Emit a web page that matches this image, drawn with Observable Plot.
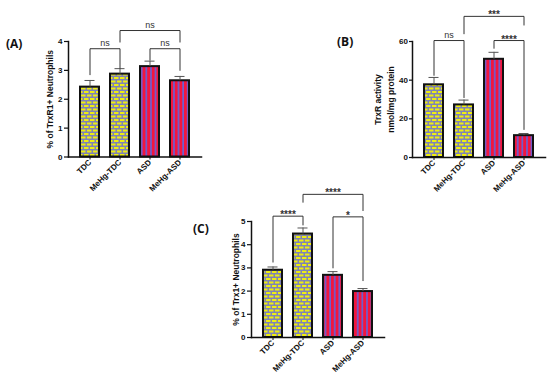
<!DOCTYPE html>
<html>
<head>
<meta charset="utf-8">
<script src="https://cdn.jsdelivr.net/npm/d3@7"></script>
<script src="https://cdn.jsdelivr.net/npm/@observablehq/plot@0.6"></script>
<style>
  html, body { margin: 0; padding: 0; background: #fff; }
  #fig { position: relative; width: 550px; height: 385px; overflow: hidden; background: #fff; }
  .panel { position: absolute; }
  .panel svg { overflow: visible; }
  .tag { position: absolute; font-family: "Open Sans", "Liberation Sans", sans-serif; font-weight: bold; font-size: 12px; color: #111; line-height: 1; }
</style>
</head>
<body>
<svg width="0" height="0" style="position:absolute">
  <defs>
    <pattern id="brick" patternUnits="userSpaceOnUse" width="6" height="7">
      <rect width="6" height="7" fill="#7f82b6"/>
      <rect x="0" y="0" width="4.5" height="2" fill="#eeee10"/>
      <rect x="3" y="3.5" width="4.5" height="2" fill="#eeee10"/>
      <rect x="-3" y="3.5" width="4.5" height="2" fill="#eeee10"/>
    </pattern>
    <pattern id="stripe" patternUnits="userSpaceOnUse" width="4.6" height="10">
      <rect width="4.6" height="10" fill="#f2163e"/>
      <rect x="2.9" y="0" width="1.7" height="10" fill="#6b5fd2"/>
    </pattern>
  </defs>
</svg>
<div id="fig">
  <div class="tag" style="left:6px; top:38px;">(A)</div>
  <div class="tag" style="left:337px; top:36px;">(B)</div>
  <div class="tag" style="left:193px; top:223px;">(C)</div>
  <div class="panel" id="pA" style="left:0px; top:0px;"></div>
  <div class="panel" id="pB" style="left:330px; top:0px;"></div>
  <div class="panel" id="pC" style="left:170px; top:180px;"></div>
</div>
<script>
// ---- data ----
const groups = ["TDC", "MeHg-TDC", "ASD", "MeHg-ASD"];
const fills = ["brick", "brick", "stripe", "stripe"];

const valuesA = [2.42, 2.87, 3.13, 2.64];
const errorsA = [0.23, 0.19, 0.19, 0.15];
const ticksA = [0, 1, 2, 3, 4];
const titleA = "% of TrxR1+ Neutrophils";
// [from, to, bracket level, left leg end, right leg end, label]
const bracketsA = [
  ["TDC", "MeHg-TDC", 3.75, 2.85, 3.08, "ns"],
  ["ASD", "MeHg-ASD", 3.75, 3.36, 3.0, "ns"],
  ["MeHg-TDC", "MeHg-ASD", 4.38, 3.98, 3.98, "ns"]
];

const valuesB = [37.6, 27.2, 50.8, 11.3];
const errorsB = [3.8, 2.5, 3.6, 1.1];
const ticksB = [0, 20, 40, 60];
const titleB = "TrxR activity\nnmol/mg protein";
const bracketsB = [
  ["TDC", "MeHg-TDC", 60.5, 42.5, 31, "ns"],
  ["ASD", "MeHg-ASD", 60.5, 56.5, 14.5, "****"],
  ["MeHg-TDC", "MeHg-ASD", 73, 64, 68.5, "***"]
];

const valuesC = [2.9, 4.46, 2.68, 1.98];
const errorsC = [0.14, 0.26, 0.16, 0.13];
const ticksC = [0, 1, 2, 3, 4, 5];
const titleC = "% of Trx1+ Neutrophils";
const bracketsC = [
  ["TDC", "MeHg-TDC", 5.23, 3.25, 4.85, "****"],
  ["ASD", "MeHg-ASD", 5.2, 3.0, 2.45, "*"],
  ["MeHg-TDC", "MeHg-ASD", 6.17, 5.83, 5.47, "****"]
];

// ---- drawing ----
const FONT = "'Liberation Sans', Arial, sans-serif";
const PI = 0.367, PO = 0.4;

function panel(cfg) {
  const {values, errors, ticks, title, brackets, width, height, ml, mr, mt, mb, titleDx, titleLH, tickSize, tickPadding} = cfg;
  const rows = groups.map((g, i) => ({group: g, fill: fills[i], value: values[i], hi: values[i] + errors[i]}));
  const step = (width - ml - mr) / (groups.length - PI + 2 * PO);
  const pts = brackets.flatMap((b, k) => [
    {k, x: b[0], y: b[3]}, {k, x: b[0], y: b[2]}, {k, x: b[1], y: b[2]}, {k, x: b[1], y: b[4]}
  ]);
  const labels = brackets.map(b => {
    const ns = b[5] === "ns";
    return Plot.text([b], {
      x: d => d[0], y: d => d[2], text: d => d[5],
      dx: step * (groups.indexOf(b[1]) - groups.indexOf(b[0])) / 2,
      dy: ns ? -3 : 2,
      lineAnchor: "bottom",
      fontSize: ns ? 9 : 10,
      fontWeight: ns ? "normal" : "bold",
      fill: "#333",
      fontFamily: FONT
    });
  });
  return Plot.plot({
    width, height,
    marginLeft: ml, marginRight: mr, marginTop: mt, marginBottom: mb,
    style: {background: "none", fontFamily: FONT, fontSize: "8px", color: "#111", overflow: "visible"},
    x: {domain: groups, paddingInner: PI, paddingOuter: PO, label: null},
    y: {domain: [0, ticks[ticks.length - 1]], label: null},
    marks: [
      Plot.barY(rows.filter(d => d.fill === "brick"), {x: "group", y: "value", fill: "url(#brick)", stroke: "#111", strokeWidth: 2}),
      Plot.barY(rows.filter(d => d.fill === "stripe"), {x: "group", y: "value", fill: "url(#stripe)", stroke: "#111", strokeWidth: 2}),
      Plot.ruleX(rows, {x: "group", y1: "value", y2: "hi", stroke: "#555", strokeWidth: 1}),
      Plot.tickY(rows, {x: "group", y: "hi", stroke: "#555", strokeWidth: 1, insetLeft: 4.5, insetRight: 4.5}),
      Plot.line(pts, {x: "x", y: "y", z: "k", stroke: "#333", strokeWidth: 1}),
      ...labels,
      Plot.frame({anchor: "left", stroke: "#111", strokeWidth: 1.5}),
      Plot.frame({anchor: "bottom", stroke: "#111", strokeWidth: 1.5}),
      Plot.axisY({ticks, tickFormat: d3.format("d"), tickSize, tickPadding, label: null, fontWeight: "bold", strokeWidth: 1.2}),
      Plot.axisX({tickRotate: -45, tickSize: 3, tickPadding: 1, label: null, fontWeight: "bold"}),
      Plot.text([title], {frameAnchor: "left", textAnchor: "middle", lineAnchor: "middle", rotate: -90, dx: titleDx, lineHeight: titleLH, fontSize: 8.5, fontWeight: "bold", fill: "#111"})
    ]
  });
}

document.getElementById("pA").append(panel({
  values: valuesA, errors: errorsA, ticks: ticksA, title: titleA, brackets: bracketsA,
  width: 215, height: 200, ml: 68, mr: 14, mt: 41, mb: 43.5, titleDx: -19, titleLH: 1.2, tickSize: 4, tickPadding: 2
}));
document.getElementById("pB").append(panel({
  values: valuesB, errors: errorsB, ticks: ticksB, title: titleB, brackets: bracketsB,
  width: 220, height: 200, ml: 82, mr: 5, mt: 41, mb: 43, titleDx: -29, titleLH: 1.5, tickSize: 3, tickPadding: 1.5
}));
document.getElementById("pC").append(panel({
  values: valuesC, errors: errorsC, ticks: ticksC, title: titleC, brackets: bracketsC,
  width: 220, height: 205, ml: 81, mr: 6, mt: 41, mb: 48, titleDx: -16, titleLH: 1.2, tickSize: 4, tickPadding: 2
}));
</script>
</body>
</html>
